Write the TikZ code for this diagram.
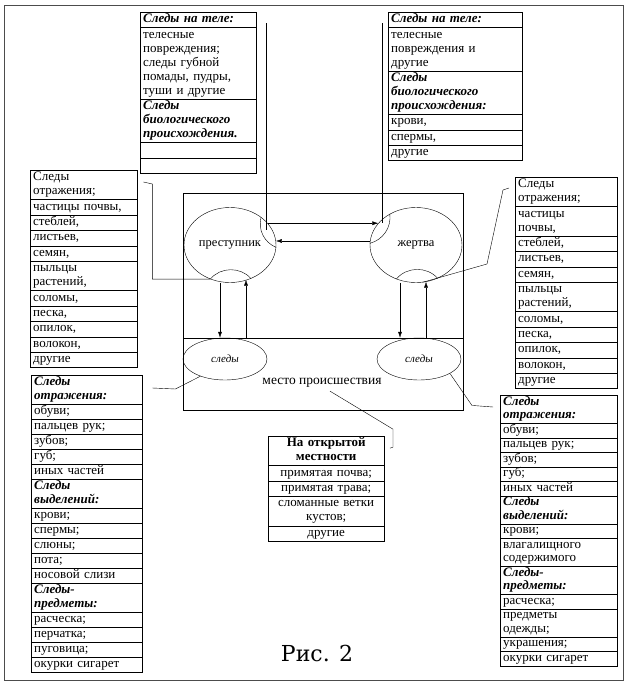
\documentclass[tikz,border=0pt]{standalone}
\usepackage{fontspec}
\setmainfont{Liberation Serif}
\newfontfamily\figfont{DejaVu Serif}
\usetikzlibrary{shapes.geometric,shapes.multipart,arrows.meta}

\newcommand\rw[1]{\strut#1\strut}
\newcommand\hd[1]{\strut{\bfseries\itshape#1}\strut}

\tikzset{
  listbox/.style={draw, rectangle split, rectangle split draw splits=true,
    align=left, inner xsep=3pt, inner ysep=0.5pt, anchor=north west,
    font=\fontsize{13}{14}\selectfont},
  person/.style={draw, ellipse, minimum width=92pt, minimum height=75pt,
    inner sep=0pt, font=\fontsize{12.5}{14}\selectfont},
  trace/.style={draw, ellipse, minimum width=84pt, minimum height=42pt,
    inner sep=0pt, font=\fontsize{11}{13}\selectfont\itshape},
  arr/.style={-{Latex[length=6pt,width=4pt]}},
}

\begin{document}
\begin{tikzpicture}[x=1pt,y=-1pt]

  \useasboundingbox (0,0) rectangle (627,683);
  \draw[black!70] (4,5) rectangle (623,680);

  \node[listbox, text width=110pt, rectangle split parts=5] (tlbox) at (140,12)
    {\hd{Следы на теле:}
     \nodepart{two}\rw{телесные\\повреждения;\\следы губной\\помады, пудры,\\туши и другие}
     \nodepart{three}\hd{Следы\\биологического\\происхождения.}
     \nodepart{four}\rw{}
     \nodepart{five}\rw{}};
  \node[listbox, text width=128pt, rectangle split parts=6] (trbox) at (388,12)
    {\hd{Следы на теле:}
     \nodepart{two}\rw{телесные\\повреждения и\\другие}
     \nodepart{three}\hd{Следы\\биологического\\происхождения:}
     \nodepart{four}\rw{крови,}
     \nodepart{five}\rw{спермы,}
     \nodepart{six}\rw{другие}};

  \node[listbox, text width=101pt, rectangle split parts=11] (lubox) at (30,170)
    {\rw{Следы\\отражения;}
     \nodepart{two}\rw{частицы почвы,}
     \nodepart{three}\rw{стеблей,}
     \nodepart{four}\rw{листьев,}
     \nodepart{five}\rw{семян,}
     \nodepart{six}\rw{пыльцы\\растений,}
     \nodepart{seven}\rw{соломы,}
     \nodepart{eight}\rw{песка,}
     \nodepart{nine}\rw{опилок,}
     \nodepart{ten}\rw{волокон,}
     \nodepart{eleven}\rw{другие}};
  \node[listbox, text width=96pt, rectangle split parts=11] (rubox) at (515,177)
    {\rw{Следы\\отражения;}
     \nodepart{two}\rw{частицы\\почвы,}
     \nodepart{three}\rw{стеблей,}
     \nodepart{four}\rw{листьев,}
     \nodepart{five}\rw{семян,}
     \nodepart{six}\rw{пыльцы\\растений,}
     \nodepart{seven}\rw{соломы,}
     \nodepart{eight}\rw{песка,}
     \nodepart{nine}\rw{опилок,}
     \nodepart{ten}\rw{волокон,}
     \nodepart{eleven}\rw{другие}};

  \node[listbox, inner ysep=0.3pt, text width=105pt, rectangle split parts=17] (llbox) at (31,375)
    {\hd{Следы\\отражения:}
     \nodepart{two}\rw{обуви;}
     \nodepart{three}\rw{пальцев рук;}
     \nodepart{four}\rw{зубов;}
     \nodepart{five}\rw{губ;}
     \nodepart{six}\rw{иных частей}
     \nodepart{seven}\hd{Следы\\выделений:}
     \nodepart{eight}\rw{крови;}
     \nodepart{nine}\rw{спермы;}
     \nodepart{ten}\rw{слюны;}
     \nodepart{eleven}\rw{пота;}
     \nodepart{twelve}\rw{носовой слизи}
     \nodepart{thirteen}\hd{Следы-\\предметы:}
     \nodepart{fourteen}\rw{расческа;}
     \nodepart{fifteen}\rw{перчатка;}
     \nodepart{sixteen}\rw{пуговица;}
     \nodepart{seventeen}\rw{окурки сигарет}};
  \node[listbox, font=\fontsize{13}{13.5}\selectfont, inner ysep=0.3pt, text width=111pt,
        rectangle split parts=14] (rlbox) at (500,395)
    {\hd{Следы\\отражения:}
     \nodepart{two}\rw{обуви;}
     \nodepart{three}\rw{пальцев рук;}
     \nodepart{four}\rw{зубов;}
     \nodepart{five}\rw{губ;}
     \nodepart{six}\rw{иных частей}
     \nodepart{seven}\hd{Следы\\выделений:}
     \nodepart{eight}\rw{крови;}
     \nodepart{nine}\rw{влагалищного\\содержимого}
     \nodepart{ten}\hd{Следы-\\предметы:}
     \nodepart{eleven}\rw{расческа;}
     \nodepart{twelve}\rw{предметы\\одежды;}
     \nodepart{thirteen}\rw{украшения;}
     \nodepart{fourteen}\rw{окурки сигарет}};

  \node[listbox, align=center, text width=110pt, rectangle split parts=5] (openbox) at (268,436)
    {\rw{\bfseries На открытой\\местности}
     \nodepart{two}\rw{примятая почва;}
     \nodepart{three}\rw{примятая трава;}
     \nodepart{four}\rw{сломанные ветки\\кустов;}
     \nodepart{five}\rw{другие}};

  \node[draw, anchor=north west, minimum width=280pt, minimum height=217pt] (scene) at (183,193) {};
  \coordinate (div) at (0,338);
  \draw (scene.west |- div) -- (scene.east |- div);

  \node[person] (prest) at (230,245) {преступник};
  \node[person] (zh) at (416,245) {жертва};
  \node[trace] (sledL) at (225,359) {следы};
  \node[trace] (sledR) at (419,359) {следы};
  \node[font=\fontsize{13.5}{15}\selectfont] (mesto) at (322,383) {место происшествия};

  \draw (prest.42) to[bend right=40] (prest.-3);
  \draw (prest.-120) to[bend left=50] (prest.-58);
  \draw (zh.130) to[bend left=40] (zh.178);
  \draw (zh.-120) to[bend left=50] (zh.-57);

  \draw ([shift={(10pt,-11pt)}]tlbox.north east) -- ++(0,207);
  \draw ([shift={(-6pt,-11pt)}]trbox.north west) -- ++(0,200);
  \draw[arr] (prest.30) -- (zh.150);
  \draw[arr] (zh.175) -- (prest.5);

  \draw[arr] ([xshift=-10pt]prest.south) -- ([xshift=-10pt]prest.south |- sledL.north);
  \draw[arr] ([xshift=16pt]prest.south |- sledL.north) -- ([xshift=16pt,yshift=3pt]prest.south);
  \draw[arr] ([xshift=-16pt]zh.south) -- ([xshift=-16pt]zh.south |- sledR.north);
  \draw[arr] ([xshift=10pt]zh.south |- sledR.north) -- ([xshift=10pt,yshift=1pt]zh.south);

  \draw ([shift={(6pt,-12pt)}]lubox.north east) -- ++(9,2) |- (prest.-120);
  \draw ([shift={(-6pt,-11pt)}]rubox.north west) -- ++(-6,2) -- ++(-16,74) -- (zh.-80);
  \draw ([shift={(10pt,-13pt)}]llbox.north east) -- ++(23,1) -- (sledL.-145);
  \draw (sledR.-25) -- ++(22,32) -- ([shift={(-7pt,-12pt)}]rlbox.north west);
  \draw ([xshift=8pt]mesto.south) -- ++(63,38) -- ++(0,18) -- ++(-3,1);

  \node[font=\figfont\fontsize{22}{26}\selectfont] (caption) at (317,653) {Рис. 2};

\end{tikzpicture}
\end{document}
